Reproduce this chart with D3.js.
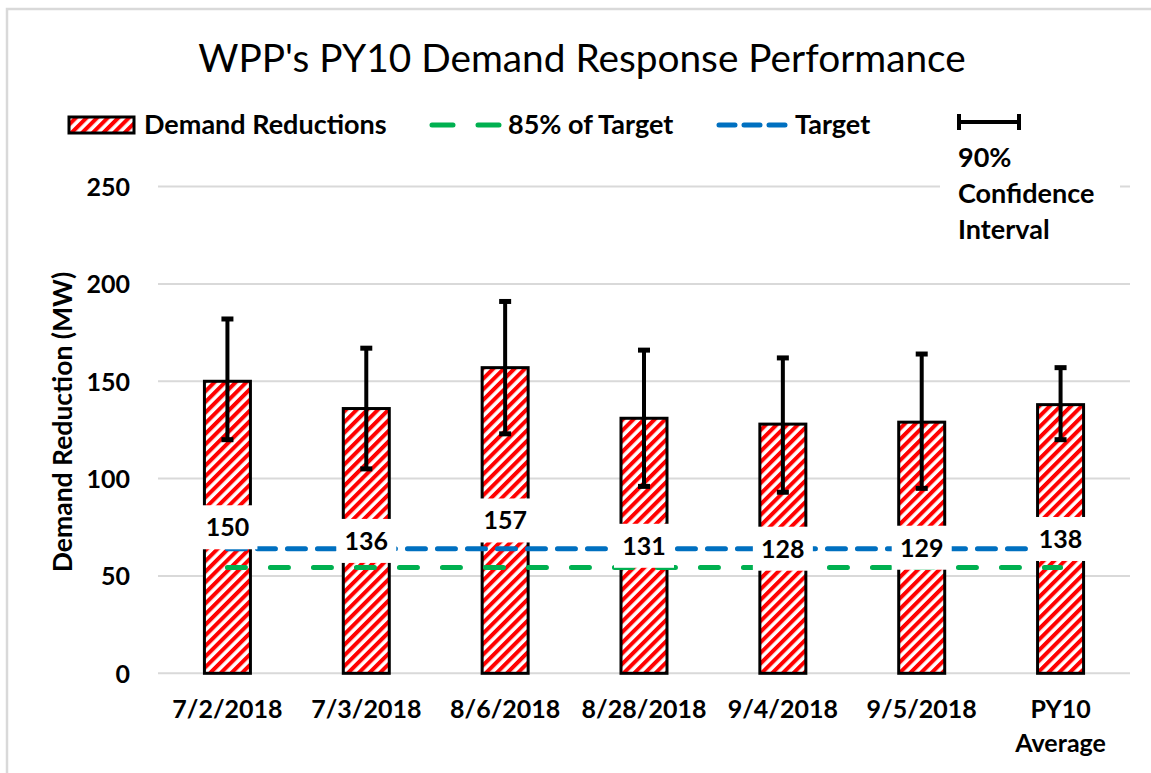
<!DOCTYPE html>
<html>
<head>
<meta charset="utf-8">
<script src="https://cdn.jsdelivr.net/npm/d3@7"></script>
<style>
  html, body { margin: 0; padding: 0; background: #fff; }
  svg { display: block; font-family: Lato, "Open Sans", sans-serif; }
</style>
</head>
<body>
<svg id="chart" width="1151" height="773"></svg>
<script>
// ----- Data -----
const categories = ["7/2/2018", "7/3/2018", "8/6/2018", "8/28/2018", "9/4/2018", "9/5/2018", "PY10 Average"];
const reductions = [150, 136, 157, 131, 128, 129, 138];
const ciLow      = [120, 105, 123, 96, 93, 95, 120];
const ciHigh     = [182, 167, 191, 166, 162, 164, 157];
const target     = [64, 64, 64, 64, 64, 64, 64];
const target85   = [54.4, 54.4, 54.4, 54.4, 54.4, 54.4, 54.4];
const yTicks     = [0, 50, 100, 150, 200, 250];

// ----- Layout -----
const PLOT = { left: 158, right: 1130, top: 186.6, bottom: 673.3 };
const BAR_W = 46;
const RED = "#ff0000";
const GREEN = "#00b050";
const BLUE = "#0070c0";
const GRID = "#d9d9d9";

const svg = d3.select("#chart");

// outer chart border (only top/left fall inside the picture)
svg.append("rect")
  .attr("x", 7).attr("y", 9)
  .attr("width", 1200).attr("height", 800)
  .attr("fill", "none").attr("stroke", GRID).attr("stroke-width", 2.5);

// hatch pattern: red upward diagonal stripes on white
const defs = svg.append("defs");
const pat = defs.append("pattern")
  .attr("id", "hatch")
  .attr("patternUnits", "userSpaceOnUse")
  .attr("width", 7.5).attr("height", 7.5)
  .attr("patternTransform", "rotate(45)");
pat.append("rect").attr("width", 7.5).attr("height", 7.5).attr("fill", "#fff");
pat.append("rect").attr("width", 4).attr("height", 7.5).attr("fill", RED);

// ----- Scales -----
const x = d3.scaleBand().domain(categories).range([PLOT.left, PLOT.right]).padding(0);
const y = d3.scaleLinear().domain([0, 250]).range([PLOT.bottom, PLOT.top]);
const cx = c => x(c) + x.bandwidth() / 2;

// ----- Gridlines -----
svg.append("g").selectAll("line").data(yTicks).join("line")
  .attr("x1", PLOT.left).attr("x2", PLOT.right)
  .attr("y1", d => y(d)).attr("y2", d => y(d))
  .attr("stroke", GRID).attr("stroke-width", 2);

// ----- Y axis -----
const yAxisG = svg.append("g")
  .attr("transform", `translate(${PLOT.left - 28},0)`)
  .call(d3.axisLeft(y).tickValues(yTicks).tickSize(0).tickPadding(0));
yAxisG.select(".domain").remove();
yAxisG.selectAll("text")
  .attr("font-family", "Lato, sans-serif")
  .attr("font-size", 25).attr("font-weight", 700).attr("fill", "#000")
  .attr("dy", "0.36em");

svg.append("text")
  .attr("transform", `translate(72, ${(PLOT.top + PLOT.bottom) / 2 - 8}) rotate(-90)`)
  .attr("text-anchor", "middle")
  .attr("font-size", 26.5).attr("font-weight", 700)
  .text("Demand Reduction (MW)");

// ----- X axis -----
const xAxisG = svg.append("g")
  .attr("transform", `translate(0, ${PLOT.bottom})`)
  .call(d3.axisBottom(x).tickSize(0).tickPadding(0));
xAxisG.select(".domain").remove();
xAxisG.selectAll("text")
  .attr("font-family", "Lato, sans-serif")
  .attr("font-size", 25).attr("font-weight", 700).attr("fill", "#000")
  .attr("dy", null).attr("y", 0)
  .each(function (d) {
    const t = d3.select(this).text(null);
    d.split(" ").forEach((w, i) => {
      t.append("tspan").attr("x", 0).attr("y", 45 + i * 34).text(w);
    });
  });

// ----- Bars -----
svg.append("g").selectAll("rect").data(categories).join("rect")
  .attr("x", c => cx(c) - BAR_W / 2)
  .attr("y", (c, i) => y(reductions[i]))
  .attr("width", BAR_W)
  .attr("height", (c, i) => y(0) - y(reductions[i]))
  .attr("fill", "url(#hatch)")
  .attr("stroke", "#000").attr("stroke-width", 3);

// ----- Target lines -----
const line = d3.line().x(d => cx(d[0])).y(d => y(d[1]));
svg.append("path")
  .datum(categories.map((c, i) => [c, target85[i]]))
  .attr("d", line)
  .attr("fill", "none").attr("stroke", GREEN).attr("stroke-width", 5)
  .attr("stroke-linecap", "round").attr("stroke-dasharray", "18,25");
svg.append("path")
  .datum(categories.map((c, i) => [c, target[i]]))
  .attr("d", line)
  .attr("fill", "none").attr("stroke", BLUE).attr("stroke-width", 5)
  .attr("stroke-linecap", "round").attr("stroke-dasharray", "18,12");

// ----- Error bars -----
const err = svg.append("g").attr("stroke", "#000");
categories.forEach((c, i) => {
  err.append("line")
    .attr("x1", cx(c)).attr("x2", cx(c))
    .attr("y1", y(ciLow[i])).attr("y2", y(ciHigh[i]))
    .attr("stroke-width", 4);
  [ciLow[i], ciHigh[i]].forEach(v => {
    err.append("line")
      .attr("x1", cx(c) - 6).attr("x2", cx(c) + 6)
      .attr("y1", y(v)).attr("y2", y(v))
      .attr("stroke-width", 5);
  });
});

// ----- Data labels (white box, centred in the bar) -----
const lab = svg.append("g").selectAll("g").data(categories).join("g")
  .attr("transform", (c, i) => `translate(${cx(c)}, ${(y(0) + y(reductions[i])) / 2})`);
lab.append("rect")
  .attr("x", -30).attr("y", -22).attr("width", 60).attr("height", 44)
  .attr("fill", "#fff");
lab.append("text")
  .attr("text-anchor", "middle").attr("dy", "0.36em")
  .attr("font-size", 25).attr("font-weight", 700)
  .text((c, i) => reductions[i]);

// ----- Title -----
svg.append("text")
  .attr("x", 582).attr("y", 72)
  .attr("text-anchor", "middle")
  .attr("font-size", 38.8).attr("fill", "#000")
  .text("WPP's PY10 Demand Response Performance");

// ----- Legend -----
const leg = svg.append("g").attr("font-size", 27).attr("font-weight", 700);
leg.append("rect")
  .attr("x", 69).attr("y", 117).attr("width", 65).attr("height", 16)
  .attr("fill", "url(#hatch)").attr("stroke", "#000").attr("stroke-width", 3);
leg.append("text").attr("x", 144).attr("y", 134).text("Demand Reductions");

leg.append("line")
  .attr("x1", 432).attr("x2", 500).attr("y1", 125).attr("y2", 125)
  .attr("stroke", GREEN).attr("stroke-width", 5)
  .attr("stroke-linecap", "round").attr("stroke-dasharray", "21,25");
leg.append("text").attr("x", 508).attr("y", 134).text("85% of Target");

leg.append("line")
  .attr("x1", 719).attr("x2", 786).attr("y1", 125).attr("y2", 125)
  .attr("stroke", BLUE).attr("stroke-width", 5)
  .attr("stroke-linecap", "round").attr("stroke-dasharray", "16,9");
leg.append("text").attr("x", 795).attr("y", 134).text("Target");

// confidence-interval legend on a white box
leg.append("rect")
  .attr("x", 940).attr("y", 105).attr("width", 180).attr("height", 145)
  .attr("fill", "#fff");
leg.append("line")
  .attr("x1", 959).attr("x2", 1019).attr("y1", 122).attr("y2", 122)
  .attr("stroke", "#000").attr("stroke-width", 4);
[959, 1019].forEach(xv => {
  leg.append("line")
    .attr("x1", xv).attr("x2", xv).attr("y1", 114).attr("y2", 130)
    .attr("stroke", "#000").attr("stroke-width", 4);
});
["90%", "Confidence", "Interval"].forEach((t, i) => {
  leg.append("text").attr("x", 958).attr("y", 167 + i * 36).text(t);
});
</script>
</body>
</html>
